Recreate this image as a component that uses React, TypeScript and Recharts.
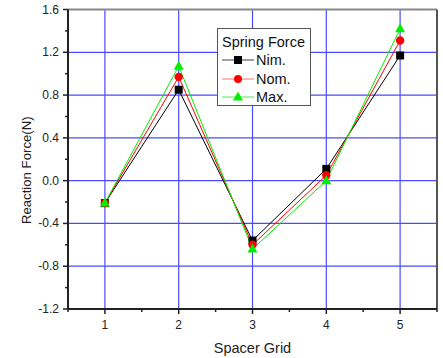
import {
  LineChart,
  Line,
  XAxis,
  YAxis,
  ReferenceLine,
  Label,
} from "recharts";

const grids = [1, 2, 3, 4, 5];
const nim = [-0.21, 0.85, -0.56, 0.11, 1.17];
const nom = [-0.21, 0.97, -0.6, 0.05, 1.31];
const max = [-0.21, 1.07, -0.64, 0.0, 1.42];

const xTicks = [0.5, 1, 1.5, 2, 2.5, 3, 3.5, 4, 4.5, 5, 5.5];
const yTicks = [-1.2, -1.0, -0.8, -0.6, -0.4, -0.2, 0, 0.2, 0.4, 0.6, 0.8, 1.0, 1.2, 1.4, 1.6];
const yGrid = [-0.8, -0.4, 0, 0.4, 0.8, 1.2];

const data = grids.map((g, i) => ({ grid: g, nim: nim[i], nom: nom[i], max: max[i] }));

const FONT = "'Liberation Sans', Arial, sans-serif";
const GRID = "#4a4aff";

const isMajorY = (v: number) => Math.abs(Math.round(v / 0.4) * 0.4 - v) < 1e-6;

function XTick({ x, y, payload }: any) {
  const major = Number.isInteger(payload.value);
  return (
    <g>
      <line x1={x} x2={x} y1={y} y2={y + (major ? 5 : 3)} stroke="#222" strokeWidth={1.5} />
      {major && (
        <text x={x} y={y + 20} textAnchor="middle" fontSize={12} fontFamily={FONT} fill="#222">
          {payload.value}
        </text>
      )}
    </g>
  );
}

function YTick({ x, y, payload }: any) {
  const major = isMajorY(payload.value);
  return (
    <g>
      <line x1={x} x2={x - (major ? 5 : 3)} y1={y} y2={y} stroke="#222" strokeWidth={1.5} />
      {major && (
        <text x={x - 9} y={y + 4} textAnchor="end" fontSize={12} fontFamily={FONT} fill="#222">
          {payload.value.toFixed(1)}
        </text>
      )}
    </g>
  );
}

function XTitle({ viewBox }: any) {
  const cx = viewBox.x + viewBox.width / 2;
  return (
    <text x={cx} y={viewBox.y + 44} textAnchor="middle" fontSize={14.5} fontFamily={FONT} fill="#222">
      Spacer Grid
    </text>
  );
}

function YTitle({ viewBox }: any) {
  const x = viewBox.x + 31;
  const y = viewBox.y + viewBox.height / 2 + 11;
  return (
    <text
      x={x}
      y={y}
      transform={`rotate(-90, ${x}, ${y})`}
      textAnchor="middle"
      fontSize={13.2}
      fontFamily={FONT}
      fill="#222"
    >
      Reaction Force(N)
    </text>
  );
}

const Square = ({ cx, cy }: any) => <rect x={cx - 4} y={cy - 4} width={8} height={8} fill="#000" />;
const Circle = ({ cx, cy }: any) => <circle cx={cx} cy={cy} r={4.2} fill="#ff0000" />;
const Tri = ({ cx, cy }: any) => (
  <path d={`M${cx},${cy - 5.5} L${cx + 5},${cy + 3.5} L${cx - 5},${cy + 3.5} Z`} fill="#00ee00" />
);

// legend: line colour is lighter than the marker, like the reference
const legendRows = [
  { name: "Nim.", color: "#000", line: "#444", icon: "sq" },
  { name: "Nom.", color: "#ff0000", line: "#ff7070", icon: "ci" },
  { name: "Max.", color: "#00ee00", line: "#50ee50", icon: "tr" },
];

function LegendBox() {
  return (
    <div
      style={{
        position: "absolute",
        left: 217,
        top: 28,
        width: 94,
        height: 78,
        border: "1px solid #555",
        background: "#fff",
        fontFamily: FONT,
        color: "#111",
        boxSizing: "border-box",
        padding: "5px 0 0 4px",
      }}
    >
      <div style={{ fontSize: 14.5, lineHeight: "17px", whiteSpace: "nowrap" }}>Spring Force</div>
      {legendRows.map((r) => (
        <div key={r.name} style={{ display: "flex", alignItems: "center", height: 18.5 }}>
          <svg width={32} height={12}>
            <line x1={0} x2={32} y1={6} y2={6} stroke={r.line} strokeWidth={1} />
            {r.icon === "sq" && <rect x={12} y={2} width={8} height={8} fill={r.color} />}
            {r.icon === "ci" && <circle cx={16} cy={6} r={4} fill={r.color} />}
            {r.icon === "tr" && <path d="M16,0.5 L21,9.5 L11,9.5 Z" fill={r.color} />}
          </svg>
          <span style={{ fontSize: 14.5, marginLeft: 2 }}>{r.name}</span>
        </div>
      ))}
    </div>
  );
}

export default function App() {
  return (
    <div style={{ position: "absolute", left: 0, top: 0, width: 443, height: 358, background: "#fff" }}>
      <LineChart
        width={443}
        height={358}
        data={data}
        margin={{ top: 9.5, right: 6, left: 0, bottom: 0 }}
      >
        <XAxis
          dataKey="grid"
          type="number"
          domain={[0.5, 5.5]}
          ticks={xTicks}
          interval={0}
          tickSize={0}
          tickMargin={0}
          tickLine={false}
          tick={<XTick />}
          height={49}
          axisLine={{ stroke: "#222", strokeWidth: 2 }}
        >
          <Label content={<XTitle />} />
        </XAxis>
        <YAxis
          type="number"
          domain={[-1.2, 1.6]}
          ticks={yTicks}
          interval={0}
          tickSize={0}
          tickMargin={0}
          tickLine={false}
          tick={<YTick />}
          width={68}
          axisLine={{ stroke: "#222", strokeWidth: 2 }}
        >
          <Label content={<YTitle />} />
        </YAxis>
        {yGrid.map((v) => (
          <ReferenceLine key={`h${v}`} y={v} stroke={GRID} strokeWidth={1.2} />
        ))}
        {grids.map((v) => (
          <ReferenceLine key={`v${v}`} x={v} stroke={GRID} strokeWidth={1.2} />
        ))}
        <ReferenceLine y={1.6} stroke="#888" strokeWidth={2} />
        <ReferenceLine x={5.5} stroke="#555" strokeWidth={2} />
        <Line dataKey="nim" stroke="#000" strokeWidth={1} dot={<Square />} isAnimationActive={false} />
        <Line dataKey="nom" stroke="#ff0000" strokeWidth={1} dot={<Circle />} isAnimationActive={false} />
        <Line dataKey="max" stroke="#00ee00" strokeWidth={1} dot={<Tri />} isAnimationActive={false} />
      </LineChart>
      <LegendBox />
    </div>
  );
}
